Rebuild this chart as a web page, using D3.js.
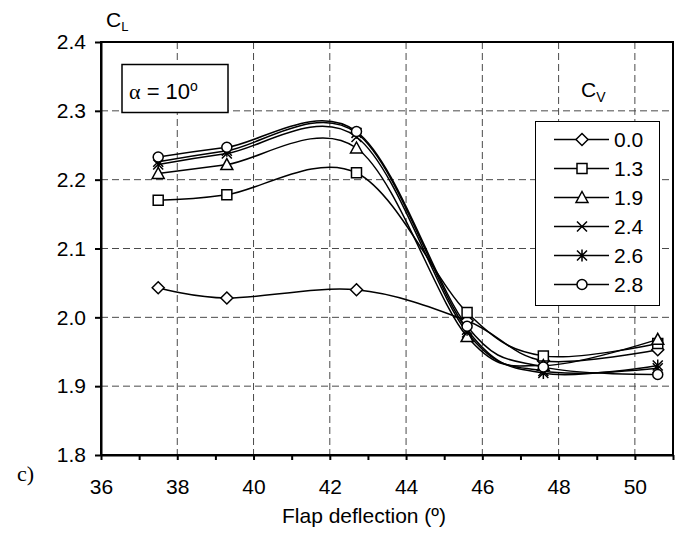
<!DOCTYPE html>
<html>
  <head>
    <script src="https://d3js.org/d3.v7.min.js"></script>
    <style>
      body { margin: 0; background: #fff; }
      text { font-family: "Liberation Sans", Arial, sans-serif; fill: #000; }
    </style>
  </head>
  <body>
    <svg width="677" height="533"></svg>
    <script>

      // flap deflection angles (deg) of the measured points
      const flap = [37.5, 39.3, 42.7, 45.6, 47.6, 50.6];

      // blowing coefficient of each series
      const cvLabels = ["0.0", "1.3", "1.9", "2.4", "2.6", "2.8"];

      // lift coefficient per series
      const cl00 = [2.043, 2.028, 2.040, 1.995, 1.937, 1.953];
      const cl13 = [2.170, 2.178, 2.210, 2.007, 1.944, 1.962];
      const cl19 = [2.209, 2.222, 2.246, 1.972, 1.930, 1.968];
      const cl24 = [2.222, 2.238, 2.262, 1.978, 1.922, 1.926];
      const cl26 = [2.226, 2.242, 2.268, 1.982, 1.919, 1.930];
      const cl28 = [2.233, 2.247, 2.270, 1.987, 1.928, 1.917];

      const xTicks = [36, 37, 38, 39, 40, 41, 42, 43, 44, 45, 46, 47, 48, 49, 50, 51];
      const yTicks = [1.8, 1.9, 2.0, 2.1, 2.2, 2.3, 2.4];

      const series = [cl00, cl13, cl19, cl24, cl26, cl28];
      const shapes = ["diamond", "square", "triangle", "cross", "star", "circle"];

      const pl = 101, pt = 42, pr = 673, pb = 455;

      const svg = d3.select('svg');

      const x = d3.scaleLinear().domain([36, 51]).range([pl, pr]);
      const y = d3.scaleLinear().domain([1.8, 2.4]).range([pb, pt]);

      // dashed grid
      svg.append('g')
        .selectAll('line')
        .data(xTicks.filter(d => d % 2 == 0 && d > 36 && d < 51))
        .enter().append('line')
        .attr('x1', d => x(d)).attr('x2', d => x(d))
        .attr('y1', pt).attr('y2', pb)
        .attr('stroke', '#4a4a4a').attr('stroke-width', 1)
        .attr('stroke-dasharray', '7,4');

      svg.append('g')
        .selectAll('line')
        .data(yTicks.slice(1, -1))
        .enter().append('line')
        .attr('x1', pl).attr('x2', pr)
        .attr('y1', d => y(d)).attr('y2', d => y(d))
        .attr('stroke', '#4a4a4a').attr('stroke-width', 1)
        .attr('stroke-dasharray', '7,4');

      // marker paths, s = half size
      function marker(type, s) {
        if (type == "diamond") return `M0,${-s-1}L${s+1},0L0,${s+1}L${-s-1},0Z`;
        if (type == "square") return `M${-s},${-s}H${s}V${s}H${-s}Z`;
        if (type == "triangle") return `M0,${-s-1}L${s+1},${s}L${-s-1},${s}Z`;
        if (type == "cross") return `M${-s},${-s}L${s},${s}M${-s},${s}L${s},${-s}`;
        if (type == "star") return `M${-s},${-s}L${s},${s}M${-s},${s}L${s},${-s}M0,${-s-1}V${s+1}`;
        return d3.symbol(d3.symbolCircle, Math.PI * s * s)();
      }

      const line = d3.line()
        .x((d, i) => x(flap[i]))
        .y(d => y(d))
        .curve(d3.curveCardinal.tension(0));

      series.forEach((vals, k) => {
        svg.append('path')
          .attr('d', line(vals))
          .attr('fill', 'none')
          .attr('stroke', '#000')
          .attr('stroke-width', 1.5);
      });

      series.forEach((vals, k) => {
        svg.append('g')
          .selectAll('path')
          .data(vals)
          .enter().append('path')
          .attr('transform', (d, i) => `translate(${x(flap[i])},${y(d)})`)
          .attr('d', marker(shapes[k], 5))
          .attr('fill', (shapes[k] == "cross" || shapes[k] == "star") ? 'none' : '#fff')
          .attr('stroke', '#000')
          .attr('stroke-width', 1.5);
      });

      // axes
      const xAxis = svg.append('g')
        .attr('transform', `translate(0, ${pb})`)
        .call(d3.axisBottom(x).tickValues(xTicks)
          .tickFormat(d => d % 2 == 0 && d < 51 ? d : "")
          .tickSize(5).tickSizeOuter(0).tickPadding(19));

      const yAxis = svg.append('g')
        .attr('transform', `translate(${pl}, 0)`)
        .call(d3.axisLeft(y).tickValues(yTicks)
          .tickFormat(d3.format('.1f'))
          .tickSize(6).tickSizeOuter(0).tickPadding(9));

      [xAxis, yAxis].forEach(a => {
        a.selectAll('text').style('font-size', '21px').style('font-family', '"Liberation Sans", Arial, sans-serif');
        a.selectAll('line').attr('stroke', '#000').attr('stroke-width', 2);
        a.select('.domain').attr('stroke', '#000').attr('stroke-width', 2);
      });

      // frame
      svg.append('rect')
        .attr('x', pl).attr('y', pt)
        .attr('width', pr - pl).attr('height', pb - pt)
        .attr('fill', 'none').attr('stroke', '#000').attr('stroke-width', 2);

      // C_L axis title
      const cl = svg.append('text').attr('x', 106).attr('y', 27).style('font-size', '21px');
      cl.append('tspan').text('C');
      cl.append('tspan').attr('dy', 4).style('font-size', '13px').text('L');

      // x axis title
      svg.append('text')
        .attr('x', 364).attr('y', 523)
        .attr('text-anchor', 'middle')
        .style('font-size', '21px')
        .text('Flap deflection (º)');

      svg.append('text')
        .attr('x', 17).attr('y', 481)
        .style('font-family', '"Liberation Serif", serif')
        .style('font-size', '22px')
        .text('c)');

      // alpha box
      svg.append('rect')
        .attr('x', 122).attr('y', 64.5).attr('width', 106).attr('height', 48)
        .attr('fill', '#fff').attr('stroke', '#000').attr('stroke-width', 1.5);
      const al = svg.append('text').attr('x', 129).attr('y', 99).style('font-size', '22px');
      al.append('tspan').style('font-family', '"Liberation Serif", serif').text('α');
      al.append('tspan').text(' = 10');
      al.append('tspan').attr('dy', -8).style('font-size', '14px').text('o');

      // C_V legend title
      const cv = svg.append('text').attr('x', 581).attr('y', 97).style('font-size', '21px');
      cv.append('tspan').text('C');
      cv.append('tspan').attr('dy', 5).style('font-size', '14px').text('V');

      // legend
      const ly = d3.scalePoint().domain(cvLabels).range([139.5, 284.5]);
      svg.append('rect')
        .attr('x', 535.5).attr('y', 121.5).attr('width', 124).attr('height', 184)
        .attr('fill', '#fff').attr('stroke', '#000').attr('stroke-width', 1);

      const items = svg.append('g').selectAll('g')
        .data(cvLabels)
        .enter().append('g')
        .attr('transform', d => `translate(0, ${ly(d)})`);

      items.append('line')
        .attr('x1', 554).attr('x2', 609)
        .attr('stroke', '#000').attr('stroke-width', 1.5);

      items.append('path')
        .attr('transform', 'translate(582, 0)')
        .attr('d', (d, i) => marker(shapes[i], 5))
        .attr('fill', (d, i) => (shapes[i] == "cross" || shapes[i] == "star") ? 'none' : '#fff')
        .attr('stroke', '#000').attr('stroke-width', 1.5);

      items.append('text')
        .attr('x', 614).attr('dy', '0.36em')
        .style('font-size', '21px')
        .text(d => d);

    </script>
  </body>
</html>
